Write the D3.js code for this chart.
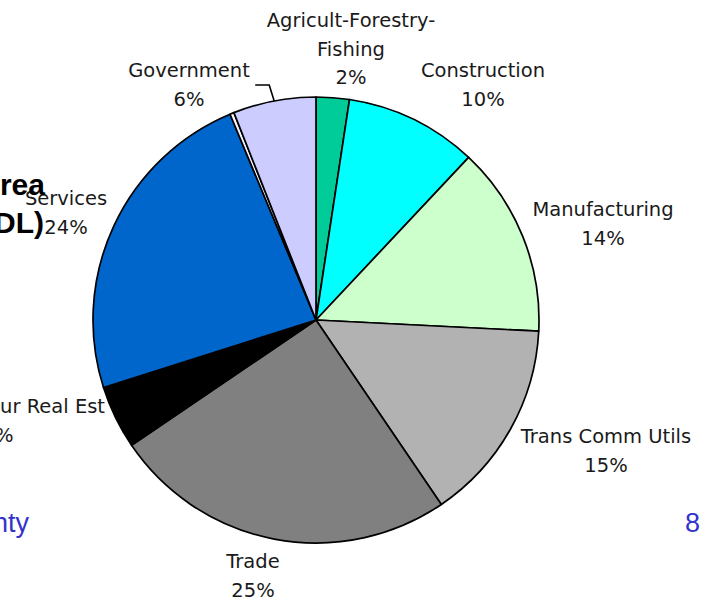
<!DOCTYPE html>
<html>
<head>
<meta charset="utf-8">
<script src="https://cdn.jsdelivr.net/npm/d3@7/dist/d3.min.js"></script>
<style>
  html, body { margin: 0; padding: 0; background: #fff; overflow: hidden; }
  svg { display: block; }
</style>
</head>
<body>
<svg id="chart" width="708" height="604"></svg>
<script>
// Employment share by industry (percent of total)
const categories = [
  "Agricult-Forestry-Fishing", "Construction", "Manufacturing",
  "Trans Comm Utils", "Trade", "Finance Insur Real Est",
  "Services", "Mining", "Government"
];
const shares = [2.4, 9.6, 13.8, 14.7, 25.0, 4.6, 23.6, 0.3, 6.0];
const colors = ["#00cc99", "#00ffff", "#ccffcc", "#b2b2b2", "#808080",
                "#000000", "#0066cc", "#f4f4ff", "#ccccff"];
// label lines for each slice (null = no label drawn)
const labelLines = [
  ["Agricult-Forestry-", "Fishing"], ["Construction"], ["Manufacturing"],
  ["Trans Comm Utils"], ["Trade"], ["Finance Insur Real Est"],
  ["Services"], null, ["Government"]
];

// layout
const W = 708, H = 604;
const cx = 316, cy = 320, R = 223;
const labelFont = "'DejaVu Sans', Verdana, sans-serif";
const lineGap = 28.5;
// first-baseline anchor of each label block
const labelAnchor = [
  [351, 27], [483, 77], [603, 216], [606, 443], [253, 568],
  [-2, 413], [66, 205], null, [189, 77]
];

const svg = d3.select("#chart");

const data = categories.map((c, i) => ({ name: c, value: shares[i], i }));

const pie = d3.pie().value(d => d.value).sort(null)
  .startAngle(0).endAngle(2 * Math.PI);
const arcs = pie(data);
const arc = d3.arc().innerRadius(0).outerRadius(R);

const g = svg.append("g").attr("transform", `translate(${cx},${cy})`);

g.selectAll("path.slice")
  .data(arcs)
  .join("path")
  .attr("class", "slice")
  .attr("d", arc)
  .attr("fill", d => colors[d.data.i])
  .attr("stroke", "#000")
  .attr("stroke-width", 1.7)
  .attr("stroke-linejoin", "round");

// leader line for the government slice
const gov = arcs[8];
const mid = (gov.startAngle + gov.endAngle) / 2;
const ex = R * Math.sin(mid), ey = -R * Math.cos(mid);
g.append("polyline")
  .attr("points", [[ex, ey], [ex - 5, ey - 16], [ex - 19, ey - 16]].map(p => p.join(",")).join(" "))
  .attr("fill", "none")
  .attr("stroke", "#000")
  .attr("stroke-width", 1.6);

// slice labels: name lines followed by rounded percentage
const fmtPct = v => Math.round(v) + "%";
arcs.forEach((a, k) => {
  const lines = labelLines[k];
  if (!lines) return;
  const [lx, ly] = labelAnchor[k];
  const all = lines.concat([fmtPct(a.data.value)]);
  const t = svg.append("text")
    .attr("font-family", labelFont)
    .attr("font-size", 19.5)
    .attr("fill", "#1a1a1a")
    .attr("text-anchor", "middle");
  all.forEach((s, j) => {
    t.append("tspan").attr("x", lx).attr("y", ly + j * lineGap).text(s);
  });
});

// slide title fragment at the left edge
const title = svg.append("text")
  .attr("font-family", "'Liberation Sans', Arial, sans-serif")
  .attr("font-weight", "bold")
  .attr("font-size", 30)
  .attr("fill", "#000")
  .attr("text-anchor", "end");
title.append("tspan").attr("x", 45).attr("y", 195).text("Area");
title.append("tspan").attr("x", 44).attr("y", 233).text("(DL)");

// footer
svg.append("text")
  .attr("x", 29).attr("y", 532)
  .attr("text-anchor", "end")
  .attr("font-family", "'Liberation Sans', Arial, sans-serif")
  .attr("font-size", 27)
  .attr("fill", "#3333cc")
  .text("County");
svg.append("text")
  .attr("x", 700).attr("y", 532)
  .attr("text-anchor", "end")
  .attr("font-family", "'Liberation Sans', Arial, sans-serif")
  .attr("font-size", 27)
  .attr("fill", "#3333cc")
  .text("8");
</script>
</body>
</html>
